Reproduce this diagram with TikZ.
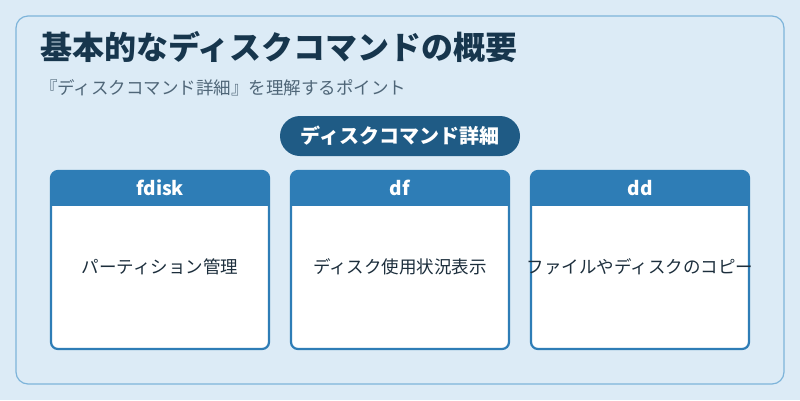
\documentclass[tikz,border=0pt]{standalone}
\usepackage{fontspec}
\setmainfont{Noto Sans CJK JP}
\usetikzlibrary{positioning}
\definecolor{bgblue}{HTML}{DCEBF6}
\definecolor{frameblue}{HTML}{7DB4DA}
\definecolor{titleink}{HTML}{17364D}
\definecolor{subink}{HTML}{4F6678}
\definecolor{pillblue}{HTML}{1F5B85}
\definecolor{cardblue}{HTML}{2E7DB6}
\definecolor{bodyink}{HTML}{1C2E3C}
\tikzset{
  cardbody/.style={draw=cardblue,line width=2.2pt,fill=white,rounded corners=7pt,minimum width=218pt,minimum height=178pt,inner sep=0pt},
  cardhead/.style={fill=cardblue,text=white,font=\bfseries\fontsize{19}{21}\selectfont,minimum width=218pt,minimum height=36pt,inner sep=0pt},
  cardtext/.style={text=bodyink,font=\fontsize{17.5}{20}\selectfont},
}
\begin{document}
\begin{tikzpicture}[x=1pt,y=-1pt]
\fill[bgblue] (0,0) rectangle (800,400);
\useasboundingbox (0,0) rectangle (800,400);
\draw[frameblue,line width=1.2pt,rounded corners=12pt] (16,16) rectangle (784,384);
% title block
\node[anchor=west,text=titleink,font=\bfseries\fontsize{32}{36}\selectfont,inner sep=0pt] (title) at (40,47) {基本的なディスクコマンドの概要};
\node[anchor=west,text=subink,font=\fontsize{17.5}{20}\selectfont,inner sep=0pt] (sub) at (40,88) {『ディスクコマンド詳細』を理解するポイント};
\node[fill=pillblue,text=white,rounded corners=20pt,minimum width=240pt,minimum height=40pt,font=\bfseries\fontsize{20}{22}\selectfont] (pill) at (400,136) {ディスクコマンド詳細};
% cards
\foreach \cx/\cmd/\desc [count=\i] in {160/fdisk/パーティション管理,400/df/ディスク使用状況表示,640/dd/ファイルやディスクのコピー}{
  \node[cardbody] (card\i) at (\cx,260) {};
  \begin{scope}
    \clip[rounded corners=7pt] (\cx-109,171) rectangle (\cx+109,260);
    \node[cardhead,anchor=north] (head\i) at (\cx,170) {\cmd};
  \end{scope}
  \node[cardtext] (desc\i) at (\cx,267) {\desc};
}
\end{tikzpicture}
\end{document}
